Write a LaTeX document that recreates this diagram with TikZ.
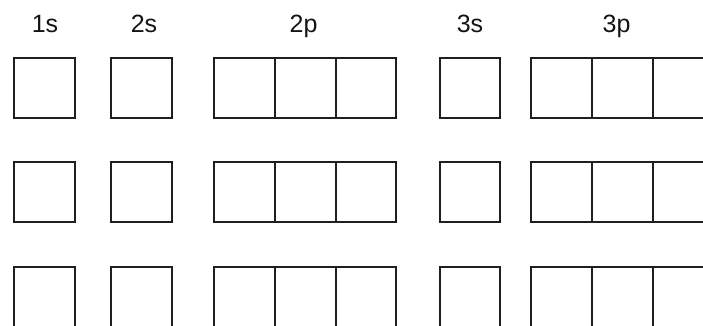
\documentclass[tikz,border=0pt]{standalone}
\usepackage{fontspec}
\setmainfont{Liberation Sans}
\usetikzlibrary{positioning}
\tikzset{
  orb/.style={draw=black!88,line width=2pt,minimum size=60.7pt,inner sep=0pt,outer sep=0pt},
  shell/.style={font=\fontsize{25}{30}\selectfont,text=black!92,anchor=base,inner sep=0pt}
}

\begin{document}
\begin{tikzpicture}[x=1pt,y=-1pt]
\useasboundingbox (0,0) rectangle (703,325);
\clip (0,0) rectangle (703,325);
% shell labels
\node[shell] (l1s) at (45,32) {1s};
\node[shell] (l2s) at (144,32) {2s};
\node[shell] (l2p) at (303.5,32) {2p};
\node[shell] (l3s) at (470,32) {3s};
\node[shell] (l3p) at (616.5,32) {3p};
% three rows of orbital boxes
\foreach \r/\y in {a/88,b/192,c/297.5}{
  \node[orb] (\r1s) at (44.5,\y) {};
  \node[orb] (\r2s) at (141.5,\y) {};
  \node[orb] (\r2px) at (244.6,\y) {};
  \node[orb,right=0pt of \r2px] (\r2py) {};
  \node[orb,right=0pt of \r2py] (\r2pz) {};
  \node[orb] (\r3s) at (470,\y) {};
  \node[orb] (\r3px) at (561.6,\y) {};
  \node[orb,right=0pt of \r3px] (\r3py) {};
  \node[orb,right=0pt of \r3py] (\r3pz) {};
}
\end{tikzpicture}
\end{document}
